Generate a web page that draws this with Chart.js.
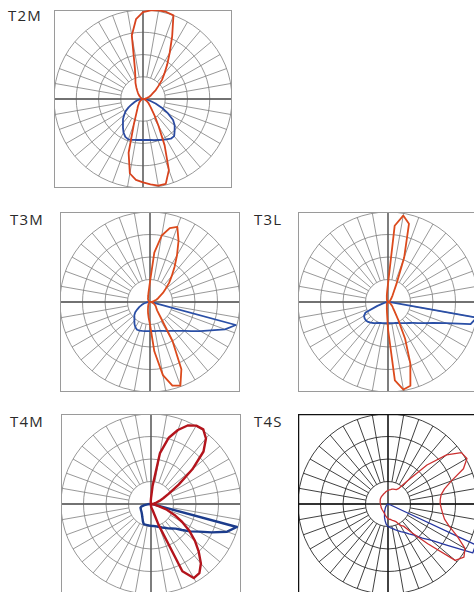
<!DOCTYPE html>
<html>
<head>
<meta charset="utf-8">
<script src="https://cdn.jsdelivr.net/npm/chart.js@4.4.0/dist/chart.umd.min.js"></script>
<style>
    html, body {
        margin: 0;
        padding: 0;
        width: 474px;
        height: 592px;
        overflow: hidden;
        background: #ffffff;
    }
    .label {
        position: absolute;
        font-family: "Open Sans", sans-serif;
        font-size: 15px;
        line-height: 15px;
        letter-spacing: 1.2px;
        color: #2a2a2a;
    }
    canvas {
        position: absolute;
    }
</style>
</head>
<body>
<div class="label" style="left:8px;top:8px;">T2M</div>
<div class="label" style="left:10px;top:212px;">T3M</div>
<div class="label" style="left:254px;top:212px;">T3L</div>
<div class="label" style="left:10px;top:414px;">T4M</div>
<div class="label" style="left:254px;top:414px;">T4S</div>

<canvas id="t2m" width="178" height="178" style="left:54px;top:10px;"></canvas>
<canvas id="t3m" width="180" height="180" style="left:60px;top:212px;"></canvas>
<canvas id="t3l" width="180" height="180" style="left:298px;top:212px;"></canvas>
<canvas id="t4m" width="180" height="180" style="left:61px;top:414px;"></canvas>
<canvas id="t4s" width="180" height="180" style="left:298px;top:414px;"></canvas>

<script>
// angle from nadir (0 = down, 90 = left, 180 = up, 270 = right), every 5 degrees
const angles = [0, 5, 10, 15, 20, 25, 30, 35, 40, 45, 50, 55,
    60, 65, 70, 75, 80, 85, 90, 95, 100, 105, 110, 115,
    120, 125, 130, 135, 140, 145, 150, 155, 160, 165, 170, 175,
    180, 185, 190, 195, 200, 205, 210, 215, 220, 225, 230, 235,
    240, 245, 250, 255, 260, 265, 270, 275, 280, 285, 290, 295,
    300, 305, 310, 315, 320, 325, 330, 335, 340, 345, 350, 355];

// ring values (0 .. 4)
const rings = [1, 2, 3, 4];

const t2mRed = [3.75, 3.65, 3.4, 2.5, 1.2, 0.7, 0.5, 0.4, 0.3, 0.25, 0.2, 0.15,
    0.1, 0.08, 0.05, 0.03, 0, 0, 0, 0, 0, 0.03, 0.05, 0.08,
    0.1, 0.15, 0.2, 0.28, 0.35, 0.45, 0.6, 0.8, 1.0, 1.4, 2.9, 3.6,
    3.9, 4.0, 4.05, 4.05, 4.0, 3.1, 2.4, 1.9, 1.5, 1.2, 0.9, 0.7,
    0.5, 0.4, 0.3, 0.2, 0.1, 0.05, 0, 0, 0.05, 0.08, 0.1, 0.15,
    0.2, 0.28, 0.35, 0.45, 0.6, 0.9, 1.4, 2.3, 3.4, 3.95, 3.95, 3.85];
const t2mBlue = [1.84, 1.85, 1.87, 1.9, 1.93, 1.88, 1.75, 1.57, 1.4, 1.27, 1.1, 0.95,
    0.75, 0.55, 0.4, 0.3, 0.2, 0.1, 0, 0, 0, 0, 0, 0,
    0, 0, 0, 0, 0, 0, 0, 0, 0, 0, 0, 0,
    0, 0, 0, 0, 0, 0, 0, 0, 0, 0, 0, 0,
    0, 0, 0, 0, 0, 0, 0, 0.1, 0.2, 0.35, 0.6, 0.95,
    1.3, 1.65, 1.86, 2.01, 2.18, 2.18, 2.1, 2.03, 1.96, 1.92, 1.87, 1.85];

const t3mRed = [1.0, 0.7, 0.5, 0.35, 0.25, 0.2, 0.15, 0.12, 0.1, 0.08, 0.05, 0.03,
    0, 0, 0, 0, 0, 0, 0, 0, 0, 0, 0, 0,
    0.03, 0.05, 0.07, 0.1, 0.12, 0.15, 0.18, 0.2, 0.25, 0.3, 0.4, 0.55,
    0.9, 2.2, 3.0, 3.4, 3.55, 3.0, 2.4, 1.9, 1.5, 1.2, 0.9, 0.7,
    0.5, 0.4, 0.3, 0.2, 0.15, 0.08, 0, 0.05, 0.1, 0.12, 0.15, 0.2,
    0.25, 0.3, 0.35, 0.4, 0.5, 0.8, 2.0, 3.3, 3.95, 3.85, 3.3, 2.2];
const t3mBlue = [1.29, 1.3, 1.31, 1.33, 1.35, 1.36, 1.3, 1.2, 1.08, 0.98, 0.91, 0.8,
    0.65, 0.52, 0.4, 0.3, 0.2, 0.1, 0.05, 0, 0, 0, 0, 0,
    0, 0, 0, 0, 0, 0, 0, 0, 0, 0, 0, 0,
    0, 0, 0, 0, 0, 0, 0, 0, 0, 0, 0, 0,
    0, 0, 0, 0, 0, 0, 0, 0.05, 0.1, 3.95, 3.55, 2.98,
    2.58, 2.25, 2.0, 1.82, 1.68, 1.57, 1.49, 1.42, 1.37, 1.33, 1.31, 1.29];

const t3lRed = [1.2, 0.5, 0.3, 0.2, 0.15, 0.12, 0.1, 0.08, 0.05, 0.03, 0, 0,
    0, 0, 0, 0, 0, 0, 0, 0, 0, 0, 0, 0,
    0, 0, 0, 0.03, 0.05, 0.07, 0.1, 0.12, 0.15, 0.2, 0.3, 0.45,
    0.8, 3.4, 3.9, 3.6, 2.1, 0.9, 0.5, 0.35, 0.25, 0.2, 0.15, 0.12,
    0.1, 0.07, 0.05, 0.03, 0, 0, 0, 0, 0, 0.03, 0.05, 0.08,
    0.1, 0.15, 0.2, 0.28, 0.35, 0.5, 0.9, 1.8, 2.9, 3.85, 3.95, 3.5];
const t3lBlue = [0.93, 0.94, 0.95, 0.97, 0.99, 1.03, 1.08, 1.14, 1.2, 1.25, 1.28, 1.27,
    1.23, 1.1, 0.5, 0.2, 0.1, 0.05, 0, 0, 0, 0, 0, 0,
    0, 0, 0, 0, 0, 0, 0, 0, 0, 0, 0, 0,
    0, 0, 0, 0, 0, 0, 0, 0, 0, 0, 0, 0,
    0, 0, 0, 0, 0, 0, 0, 0.1, 4.0, 3.8, 2.75, 2.21,
    1.87, 1.63, 1.45, 1.32, 1.22, 1.15, 1.08, 1.03, 0.99, 0.97, 0.95, 0.94];

const t4mRed = [0.1, 0.05, 0.03, 0, 0, 0, 0, 0, 0, 0, 0, 0,
    0, 0, 0, 0, 0, 0, 0, 0, 0, 0, 0, 0,
    0, 0, 0, 0, 0, 0, 0, 0, 0, 0, 0.05, 0.12,
    0.25, 0.8, 2.3, 3.05, 3.5, 3.85, 4.02, 4.05, 3.8, 3.3, 2.4, 1.5,
    0.9, 0.6, 0.4, 0.25, 0.15, 0.08, 0.05, 0.1, 0.2, 0.35, 0.75, 1.15,
    1.6, 2.08, 2.55, 3.0, 3.45, 3.75, 3.8, 3.3, 1.0, 0.3, 0.2, 0.15];
const t4mBlue = [0.97, 0.96, 0.95, 0.95, 0.95, 0.85, 0.75, 0.68, 0.62, 0.58, 0.55, 0.53,
    0.52, 0.5, 0.5, 0.45, 0.3, 0.15, 0, 0, 0, 0, 0, 0,
    0, 0, 0, 0, 0, 0, 0, 0, 0, 0, 0, 0,
    0, 0, 0, 0, 0, 0, 0, 0, 0, 0, 0, 0,
    0, 0, 0, 0, 0, 0, 0, 0.05, 0.1, 3.95, 3.6, 2.98,
    2.46, 2.12, 1.8, 1.55, 1.42, 1.32, 1.22, 1.15, 1.09, 1.04, 1.0, 0.98];

const t4sRed = [0.65, 0.6, 0.55, 0.5, 0.45, 0.42, 0.4, 0.38, 0.37, 0.36, 0.35, 0.35,
    0.34, 0.34, 0.33, 0.33, 0.33, 0.33, 0.33, 0.34, 0.35, 0.36, 0.37, 0.38,
    0.4, 0.41, 0.42, 0.43, 0.44, 0.45, 0.46, 0.48, 0.5, 0.52, 0.55, 0.58,
    0.6, 0.63, 0.65, 0.68, 0.7, 0.72, 0.74, 0.85, 1.35, 2.45, 3.4, 3.98,
    4.05, 3.7, 3.0, 2.6, 2.4, 2.33, 2.32, 2.38, 2.47, 2.6, 2.9, 3.4,
    3.95, 4.12, 3.9, 2.5, 1.7, 1.2, 1.1, 0.88, 0.8, 0.75, 0.7, 0.68];
const t4sBlue = [1.0, 0.9, 0.75, 0.6, 0.45, 0.35, 0.25, 0.2, 0.15, 0.1, 0.08, 0.05,
    0, 0, 0, 0, 0, 0, 0, 0, 0, 0, 0, 0,
    0, 0, 0, 0, 0, 0, 0, 0, 0, 0, 0, 0,
    0, 0, 0, 0, 0, 0, 0, 0, 0, 0, 0, 0,
    0, 0, 0, 0, 0, 0, 0, 0, 0, 0, 0.1, 4.3,
    4.35, 3.18, 2.49, 2.15, 1.8, 1.62, 1.46, 1.35, 1.26, 1.18, 1.1, 1.05];

// spokes every 10 degrees from the first ring out, the cross axes and the frame
const polarFrame = {
    id: 'polarFrame',
    beforeDatasetsDraw(chart, args, opts) {
        const scale = chart.scales.r;
        const area = chart.chartArea;
        const ctx = chart.ctx;
        ctx.save();
        ctx.strokeStyle = opts.grid;
        ctx.lineWidth = opts.gridWidth;
        ctx.beginPath();
        for (let i = 0; i < angles.length; i += 2) {
            const inner = scale.getPointPositionForValue(i, rings[0]);
            const outer = scale.getPointPositionForValue(i, rings[rings.length - 1]);
            ctx.moveTo(inner.x, inner.y);
            ctx.lineTo(outer.x, outer.y);
        }
        ctx.stroke();

        ctx.strokeStyle = opts.axis;
        ctx.lineWidth = opts.axisWidth;
        ctx.beginPath();
        ctx.moveTo(area.left, scale.yCenter);
        ctx.lineTo(area.right, scale.yCenter);
        ctx.moveTo(scale.xCenter, area.top);
        ctx.lineTo(scale.xCenter, area.bottom);
        ctx.stroke();

        ctx.strokeStyle = opts.box;
        ctx.lineWidth = opts.boxWidth;
        ctx.strokeRect(area.left + 0.5, area.top + 0.5, area.width - 1, area.height - 1);
        ctx.restore();
    }
};

function drawPolar(id, red, blue, style) {
    const ctx = document.getElementById(id).getContext('2d');
    new Chart(ctx, {
        type: 'radar',
        data: {
            labels: angles,
            datasets: [{
                data: red,
                borderColor: style.red,
                borderWidth: style.width,
                fill: false,
                pointRadius: 0,
                tension: 0,
                borderJoinStyle: 'round',
            }, {
                data: blue,
                borderColor: style.blue,
                borderWidth: style.width,
                fill: false,
                pointRadius: 0,
                tension: 0,
                borderJoinStyle: 'round',
            }],
        },
        options: {
            responsive: false,
            animation: false,
            events: [],
            layout: { padding: 0 },
            plugins: {
                legend: { display: false },
                tooltip: { enabled: false },
                polarFrame: style.frame,
            },
            scales: {
                r: {
                    min: 0,
                    max: rings[rings.length - 1],
                    startAngle: 180,
                    ticks: { display: false, stepSize: 1 },
                    pointLabels: { display: false },
                    angleLines: { display: false },
                    grid: {
                        circular: true,
                        color: style.frame.grid,
                        lineWidth: style.frame.gridWidth,
                    },
                },
            },
        },
        plugins: [polarFrame],
    });
}

const greyFrame = { grid: '#7d7d7d', gridWidth: 0.8, axis: '#555555', axisWidth: 1.3, box: '#9a9a9a', boxWidth: 1 };
const blackFrame = { grid: '#2a2a2a', gridWidth: 0.9, axis: '#111111', axisWidth: 1.3, box: '#111111', boxWidth: 1.5 };

window.onload = () => {
    drawPolar('t2m', t2mRed, t2mBlue, { red: '#d8431e', blue: '#2b4aa0', width: 1.8, frame: greyFrame });
    drawPolar('t3m', t3mRed, t3mBlue, { red: '#dc4a1c', blue: '#2a4fa6', width: 1.8, frame: greyFrame });
    drawPolar('t3l', t3lRed, t3lBlue, { red: '#dc4a1c', blue: '#2a4fa6', width: 1.8, frame: greyFrame });
    drawPolar('t4m', t4mRed, t4mBlue, { red: '#b3141c', blue: '#1c3c8c', width: 2.4, frame: greyFrame });
    drawPolar('t4s', t4sRed, t4sBlue, { red: '#cc3030', blue: '#2536a0', width: 1.3, frame: blackFrame });
};
</script>
</body>
</html>
